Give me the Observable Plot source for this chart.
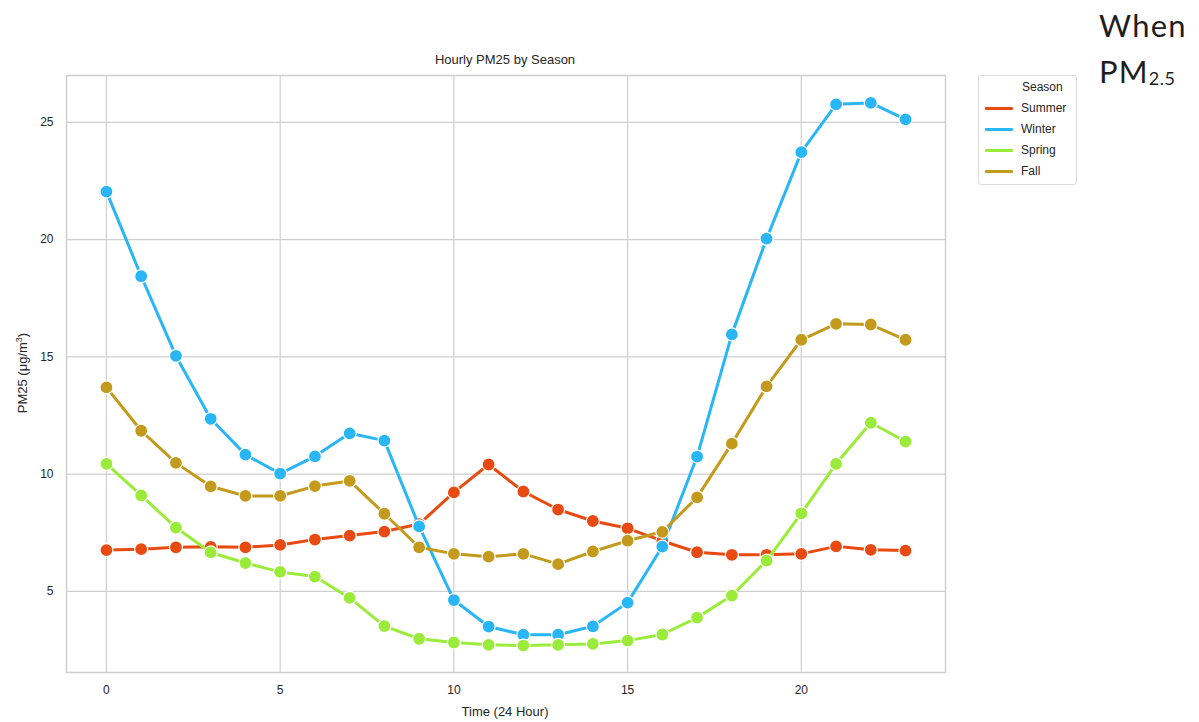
<!DOCTYPE html>
<html>
<head>
<meta charset="utf-8">
<script src="https://cdn.jsdelivr.net/npm/d3@7"></script>
<script src="https://cdn.jsdelivr.net/npm/@observablehq/plot@0.6"></script>
<style>
  html, body { margin: 0; padding: 0; background: #fff; }
  #wrap { position: relative; width: 1199px; height: 722px; overflow: hidden; font-family: "Liberation Sans", Arial, sans-serif; color: #262626; }
  #chart { position: absolute; left: 0; top: 0; }
  .abs { position: absolute; white-space: nowrap; }
  #title { left: 505px; top: 52px; transform: translateX(-50%); font-size: 13px; }
  #xlabel { left: 505px; top: 704px; transform: translateX(-50%); font-size: 13px; }
  #ylabel { left: 22px; top: 373px; transform: translate(-50%, -50%) rotate(-90deg); font-size: 13px; }
  #legend { left: 978px; top: 75px; width: 97px; height: 108px; border: 1px solid #dcdcdc; border-radius: 3px; font-size: 12px; }
  #legend .row { position: absolute; left: 0; height: 16px; line-height: 16px; }
  #legend .sw { position: absolute; left: 6px; top: 7px; width: 28px; height: 3px; border-radius: 1px; }
  #legend .lt { position: absolute; left: 42px; top: 0; }
  #side { left: 1099px; top: 2px; font-family: "Lato", "Noto Sans", sans-serif; font-size: 31px; line-height: 46px; letter-spacing: 1.2px; color: #1e1e1e; }
  #side sub { font-size: 18px; vertical-align: -2px; line-height: 0; letter-spacing: 0.5px; }
</style>
</head>
<body>
<div id="wrap">
  <div id="chart"></div>
  <div id="title" class="abs">Hourly PM25 by Season</div>
  <div id="xlabel" class="abs">Time (24 Hour)</div>
  <div id="ylabel" class="abs">PM25 (μg/m<sup style="font-size:9px">3</sup>)</div>
  <div id="legend" class="abs"></div>
  <div id="side" class="abs">When<br>PM<sub>2.5</sub></div>
</div>
<script>
const hours = [0,1,2,3,4,5,6,7,8,9,10,11,12,13,14,15,16,17,18,19,20,21,22,23];
const seasons = ["Summer", "Winter", "Spring", "Fall"];
const summer = [6.76,6.8,6.88,6.9,6.88,6.98,7.21,7.38,7.55,7.87,9.22,10.41,9.26,8.49,8.0,7.69,7.15,6.67,6.56,6.56,6.6,6.92,6.77,6.74];
const winter = [22.05,18.44,15.04,12.36,10.83,10.02,10.76,11.74,11.43,7.77,4.63,3.5,3.15,3.15,3.51,4.52,6.91,10.75,15.96,20.04,23.73,25.77,25.83,25.13];
const spring = [10.44,9.09,7.72,6.66,6.21,5.83,5.63,4.72,3.52,2.98,2.82,2.72,2.69,2.72,2.76,2.9,3.16,3.88,4.82,6.31,8.33,10.44,12.19,11.39];
const fall = [13.7,11.85,10.48,9.48,9.07,9.07,9.49,9.71,8.31,6.88,6.6,6.48,6.6,6.16,6.7,7.16,7.54,9.01,11.3,13.74,15.73,16.41,16.38,15.73];
const colors = ["#e84a12", "#29b6f6", "#9bec3a", "#c39a1b"];
const xTicks = [0, 5, 10, 15, 20];
const yTicks = [5, 10, 15, 20, 25];

const seriesValues = [summer, winter, spring, fall];
const data = seasons.flatMap((s, i) => hours.map((h, j) => ({season: s, hour: h, pm: seriesValues[i][j]})));

const marks = [
  Plot.gridX(xTicks, {stroke: "#cfcfcf", strokeOpacity: 1, strokeWidth: 1.2}),
  Plot.gridY(yTicks, {stroke: "#cfcfcf", strokeOpacity: 1, strokeWidth: 1.2}),
  Plot.axisX(xTicks, {tickSize: 0, tickPadding: 13, fontSize: 12, label: null, fill: "#262626"}),
  Plot.axisY(yTicks, {tickSize: 0, tickPadding: 13, fontSize: 12, label: null, fill: "#262626"}),
  Plot.frame({stroke: "#cfcfcf", strokeWidth: 1.5})
];
seasons.forEach(s => {
  const d = data.filter(r => r.season === s);
  marks.push(Plot.line(d, {x: "hour", y: "pm", stroke: "season", strokeWidth: 3, curve: "linear"}));
  marks.push(Plot.dot(d, {x: "hour", y: "pm", fill: "season", stroke: "white", strokeWidth: 1.2, r: 6.5}));
});

const chart = Plot.plot({
  width: 1199,
  height: 722,
  marginLeft: 66,
  marginRight: 254,
  marginTop: 75,
  marginBottom: 50,
  style: {fontFamily: "Liberation Sans, Arial, sans-serif", fontSize: "12px", background: "white"},
  x: {domain: [-1.15, 24.15], label: null},
  y: {domain: [1.54, 27.0], label: null},
  color: {domain: seasons, range: colors},
  marks
});
document.getElementById("chart").appendChild(chart);

const legend = document.getElementById("legend");
const head = document.createElement("div");
head.className = "row";
head.style.top = "3px";
head.style.left = "43px";
head.textContent = "Season";
legend.appendChild(head);
seasons.forEach((s, i) => {
  const row = document.createElement("div");
  row.className = "row";
  row.style.top = (24 + i * 21) + "px";
  row.style.width = "95px";
  const sw = document.createElement("div");
  sw.className = "sw";
  sw.style.background = colors[i];
  const lt = document.createElement("div");
  lt.className = "lt";
  lt.textContent = s;
  row.appendChild(sw);
  row.appendChild(lt);
  legend.appendChild(row);
});
</script>
</body>
</html>
